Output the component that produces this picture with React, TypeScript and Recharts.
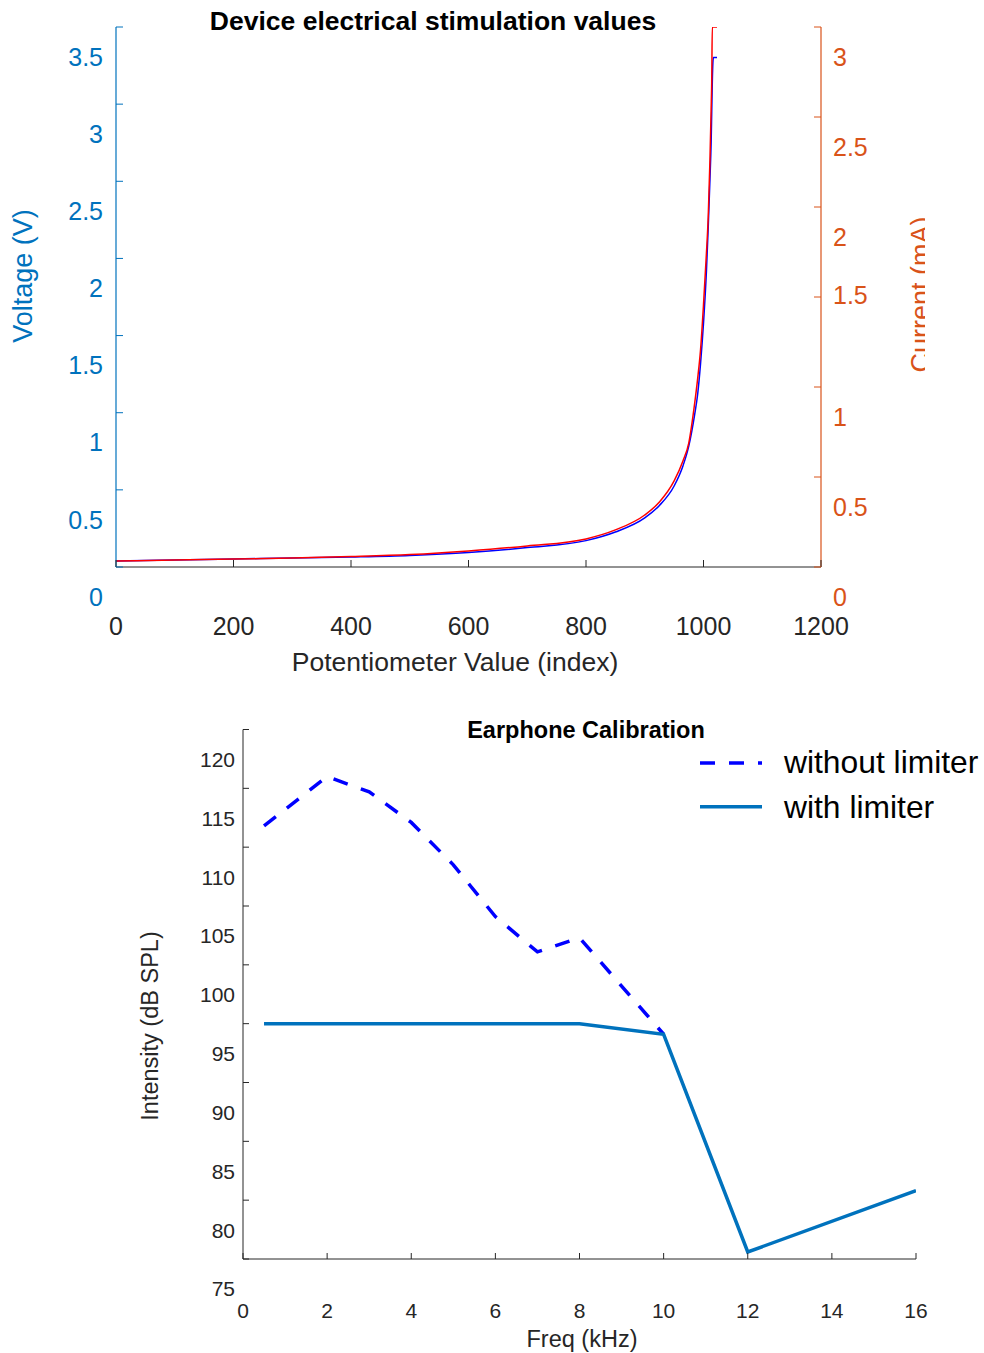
import React from 'react';
import { LineChart, Line, XAxis, YAxis } from 'recharts';

const FONT = '"Liberation Sans", Arial, Helvetica, sans-serif';
const AXIS_GRAY = '#262626';
const BLUE_AX = '#0072BD';
const ORANGE_AX = '#D95319';

// ---------- Top chart data ----------
const potIndex = [0, 100, 200, 300, 400, 500, 600, 700, 800, 850, 900, 925, 950, 965, 975, 985, 990, 995, 1000, 1005, 1008, 1011, 1013, 1014, 1015, 1016, 1017, 1020, 1023];
const voltage = [0.039, 0.045, 0.052, 0.058, 0.065, 0.075, 0.094, 0.126, 0.171, 0.227, 0.318, 0.399, 0.525, 0.655, 0.785, 0.99, 1.118, 1.32, 1.58, 1.918, 2.197, 2.515, 2.755, 2.95, 3.145, 3.27, 3.303, 3.303, 3.303];
const current = [0.033, 0.039, 0.044, 0.05, 0.058, 0.069, 0.089, 0.117, 0.156, 0.206, 0.289, 0.361, 0.478, 0.589, 0.69, 0.91, 1.045, 1.208, 1.456, 1.744, 1.942, 2.262, 2.543, 2.696, 3.0, 3.0, 3.0, 3.0, 3.0];
const potTicks = [0, 200, 400, 600, 800, 1000, 1200];
const voltTicks = [0, 0.5, 1, 1.5, 2, 2.5, 3, 3.5];
const currTicks = [0, 0.5, 1, 1.5, 2, 2.5, 3];

// ---------- Bottom chart data ----------
const freqWithout = [0.5, 2, 3, 4, 5, 6, 7, 8, 10];
const intensityWithout = [111.8, 116.0, 114.7, 112.1, 108.5, 104.1, 101.1, 102.3, 94.1];
const freqWith = [0.5, 8, 10, 12, 16];
const intensityWith = [95, 95, 94.1, 75.6, 80.8];
const freqTicks = [0, 2, 4, 6, 8, 10, 12, 14, 16];
const intensityTicks = [75, 80, 85, 90, 95, 100, 105, 110, 115, 120];
const seriesNames = ['without limiter', 'with limiter'];

const topData = potIndex.map((p, i) => ({ p, v: voltage[i], c: current[i] }));
const withoutData = freqWithout.map((f, i) => ({ f, y: intensityWithout[i] }));
const withData = freqWith.map((f, i) => ({ f, y: intensityWith[i] }));

function makeYTick(side: 'left' | 'right', color: string, fontSize: number, gap: number, len: number, offFn: (v: number) => number) {
  return (props: any) => {
    const { x, y, payload } = props;
    const dir = side === 'left' ? 1 : -1;
    const off = offFn(payload.value);
    return (
      <g>
        <line x1={x} y1={y} x2={x + dir * len} y2={y} stroke={color} strokeWidth={1} />
        <text
          x={side === 'left' ? x - gap : x + gap}
          y={y + off}
          dy="0.35em"
          textAnchor={side === 'left' ? 'end' : 'start'}
          fill={color}
          fontSize={fontSize}
          fontFamily={FONT}
        >
          {String(payload.value)}
        </text>
      </g>
    );
  };
}

function makeXTick(color: string, fontSize: number, off: number, len: number) {
  return (props: any) => {
    const { x, y, payload } = props;
    return (
      <g>
        <line x1={x} y1={y} x2={x} y2={y - len} stroke={color} strokeWidth={1} />
        <text x={x} y={y + off} dy="0.35em" textAnchor="middle" fill={color} fontSize={fontSize} fontFamily={FONT}>
          {String(payload.value)}
        </text>
      </g>
    );
  };
}

export default function App() {
  return (
    <div style={{ position: 'absolute', left: 0, top: 0, width: 984, height: 1353, background: '#fff' }}>
      <div style={{ position: 'absolute', left: 0, top: 0 }}>
        <LineChart width={984} height={690} data={topData} margin={{ top: 27, right: 0, bottom: 23, left: 0 }}>
          <XAxis
            dataKey="p"
            type="number"
            domain={[0, 1200]}
            ticks={potTicks}
            interval={0}
            height={100}
            tickSize={0}
            tickMargin={0}
            tickLine={false}
            axisLine={{ stroke: AXIS_GRAY, strokeWidth: 1 }}
            tick={makeXTick(AXIS_GRAY, 25, 59, 7)}
            allowDataOverflow
          />
          <YAxis
            yAxisId="v"
            orientation="left"
            type="number"
            domain={[0, 3.5]}
            ticks={voltTicks}
            interval={0}
            width={116}
            tickSize={0}
            tickMargin={0}
            tickLine={false}
            axisLine={{ stroke: BLUE_AX, strokeWidth: 1.2 }}
            tick={makeYTick('left', BLUE_AX, 25, 13, 7, () => 30)}
            allowDataOverflow
          />
          <YAxis
            yAxisId="i"
            orientation="right"
            type="number"
            domain={[0, 3]}
            ticks={currTicks}
            interval={0}
            width={163}
            tickSize={0}
            tickMargin={0}
            tickLine={false}
            axisLine={{ stroke: ORANGE_AX, strokeWidth: 1.2 }}
            tick={makeYTick('right', ORANGE_AX, 25, 12, 7, (v) => (v === 1.5 ? -2 : 30))}
            allowDataOverflow
          />
          <Line yAxisId="v" dataKey="v" type="monotoneX" stroke="#0000FF" strokeWidth={1.5} dot={false} isAnimationActive={false} />
          <Line yAxisId="i" dataKey="c" type="monotoneX" stroke="#FF0000" strokeWidth={1.5} dot={false} isAnimationActive={false} />
        </LineChart>
      </div>

      <div style={{ position: 'absolute', left: 0, top: 690 }}>
        <LineChart width={984} height={663} margin={{ top: 39.5, right: 68, bottom: 24, left: 0 }}>
          <XAxis
            dataKey="f"
            type="number"
            domain={[0, 16]}
            ticks={freqTicks}
            interval={0}
            height={70}
            tickSize={0}
            tickMargin={0}
            tickLine={false}
            axisLine={{ stroke: AXIS_GRAY, strokeWidth: 1 }}
            tick={makeXTick(AXIS_GRAY, 21, 52, 6)}
            allowDataOverflow
          />
          <YAxis
            type="number"
            domain={[75, 120]}
            ticks={intensityTicks}
            interval={0}
            width={243}
            tickSize={0}
            tickMargin={0}
            tickLine={false}
            axisLine={{ stroke: AXIS_GRAY, strokeWidth: 1 }}
            tick={makeYTick('left', AXIS_GRAY, 21, 8, 6, () => 30)}
            allowDataOverflow
          />
          <Line data={withoutData} dataKey="y" name={seriesNames[0]} type="linear" stroke="#0000FF" strokeWidth={3.5} strokeDasharray="15 14" dot={false} isAnimationActive={false} />
          <Line data={withData} dataKey="y" name={seriesNames[1]} type="linear" stroke="#0072BD" strokeWidth={3.5} dot={false} isAnimationActive={false} />
        </LineChart>
      </div>

      <svg width={984} height={1353} style={{ position: 'absolute', left: 0, top: 0, pointerEvents: 'none' }}>
        <defs>
          <clipPath id="clipRight">
            <rect x={0} y={0} width={925} height={700} />
          </clipPath>
        </defs>
        {/* Top chart titles/labels */}
        <text x={433} y={30} textAnchor="middle" fontSize={26.5} fontWeight="bold" fontFamily={FONT} fill="#000">
          Device electrical stimulation values
        </text>
        <text x={455} y={671} textAnchor="middle" fontSize={26.5} fontFamily={FONT} fill={AXIS_GRAY}>
          Potentiometer Value (index)
        </text>
        <text transform="translate(32,276) rotate(-90)" textAnchor="middle" fontSize={27} fontFamily={FONT} fill={BLUE_AX}>
          Voltage (V)
        </text>
        <g clipPath="url(#clipRight)">
          <text transform="translate(930,294.5) rotate(-90)" textAnchor="middle" fontSize={27} fontFamily={FONT} fill={ORANGE_AX}>
            Current (mA)
          </text>
        </g>

        {/* Bottom chart titles/labels */}
        <text x={586} y={738} textAnchor="middle" fontSize={23.5} fontWeight="bold" fontFamily={FONT} fill="#000">
          Earphone Calibration
        </text>
        <text x={582} y={1347} textAnchor="middle" fontSize={23.5} fontFamily={FONT} fill={AXIS_GRAY}>
          Freq (kHz)
        </text>
        <text transform="translate(158,1026) rotate(-90)" textAnchor="middle" fontSize={23.5} fontFamily={FONT} fill={AXIS_GRAY}>
          Intensity (dB SPL)
        </text>

        {/* Legend */}
        <line x1={700} y1={763} x2={762} y2={763} stroke="#0000FF" strokeWidth={3.5} strokeDasharray="15 14" />
        <text x={784} y={773} fontSize={31.8} fontFamily={FONT} fill="#000">
          {seriesNames[0]}
        </text>
        <line x1={700} y1={806.7} x2={762} y2={806.7} stroke="#0072BD" strokeWidth={3.5} />
        <text x={784} y={818} fontSize={31.8} fontFamily={FONT} fill="#000">
          {seriesNames[1]}
        </text>
      </svg>
    </div>
  );
}
